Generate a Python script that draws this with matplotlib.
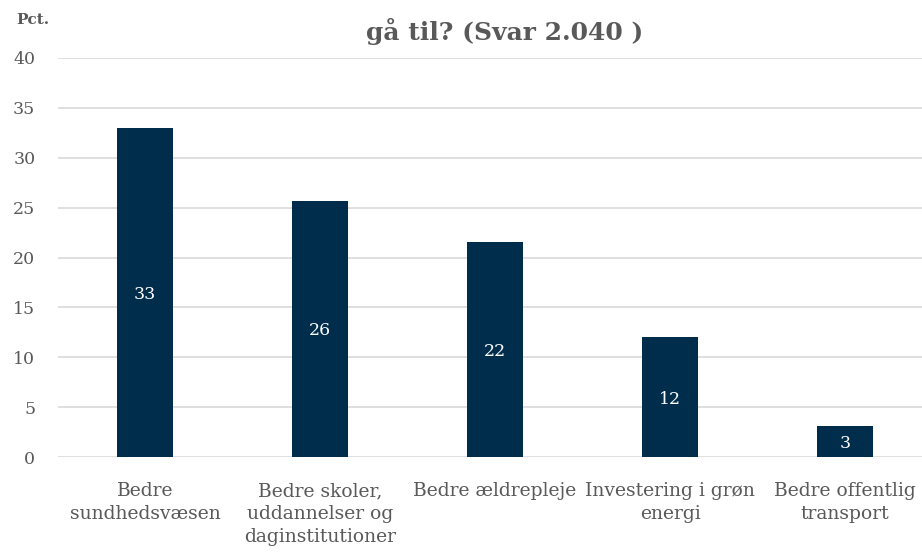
import matplotlib.pyplot as plt
import numpy as np

# Data
categories = ['Bedre\nsundhedsvæsen', 'Bedre skoler,\nuddannelser og\ndaginstitutioner',
              'Bedre ældrepleje', 'Investering i grøn\nenergi', 'Bedre offentlig\ntransport']
values = [33.0, 25.7, 21.6, 12.0, 3.1]
yticks = [0, 5, 10, 15, 20, 25, 30, 35, 40]

bar_color = '#002d4b'
text_color = '#595959'
grid_color = '#d9d9d9'
font = 'DejaVu Serif'

fig = plt.figure(figsize=(9.22, 5.56), dpi=100)
# axes extend past the right edge (the original is cropped)
ax = fig.add_axes([57.5 / 922, 1 - 457 / 556, 875 / 922, 399 / 556])

x = np.arange(len(categories))
bars = ax.bar(x, values, width=0.315, color=bar_color, zorder=3)

for xi, v in zip(x, values):
    ax.text(xi, v / 2, f'{v:.0f}', ha='center', va='center_baseline', color='white',
            fontsize=12.5, family=font, zorder=4)

ax.set_xlim(-0.5, 4.5)
ax.set_ylim(0, 40)
ax.set_yticks(yticks)
ax.set_yticklabels([str(t) for t in yticks], family=font, fontsize=12.5, color=text_color)
ax.set_xticks(x)
ax.set_xticklabels(categories, family=font, fontsize=13.5, color=text_color,
                   linespacing=1.36, va='top')
ax.tick_params(axis='both', length=0)
ax.tick_params(axis='x', pad=18)
ax.tick_params(axis='y', pad=16)

ax.grid(axis='y', color=grid_color, linewidth=1.2, zorder=0)
ax.set_axisbelow(True)
for s in ax.spines.values():
    s.set_visible(False)

fig.text(33 / 922, 1 - 20 / 556, 'Pct.', ha='center', va='center', family=font,
         fontsize=11, fontweight='bold', color=text_color)
fig.text(505 / 922, 1 - 31 / 556, 'gå til? (Svar 2.040 )', ha='center', va='center',
         family=font, fontsize=18, fontweight='bold', color=text_color)

plt.savefig('out.png', dpi=100)
